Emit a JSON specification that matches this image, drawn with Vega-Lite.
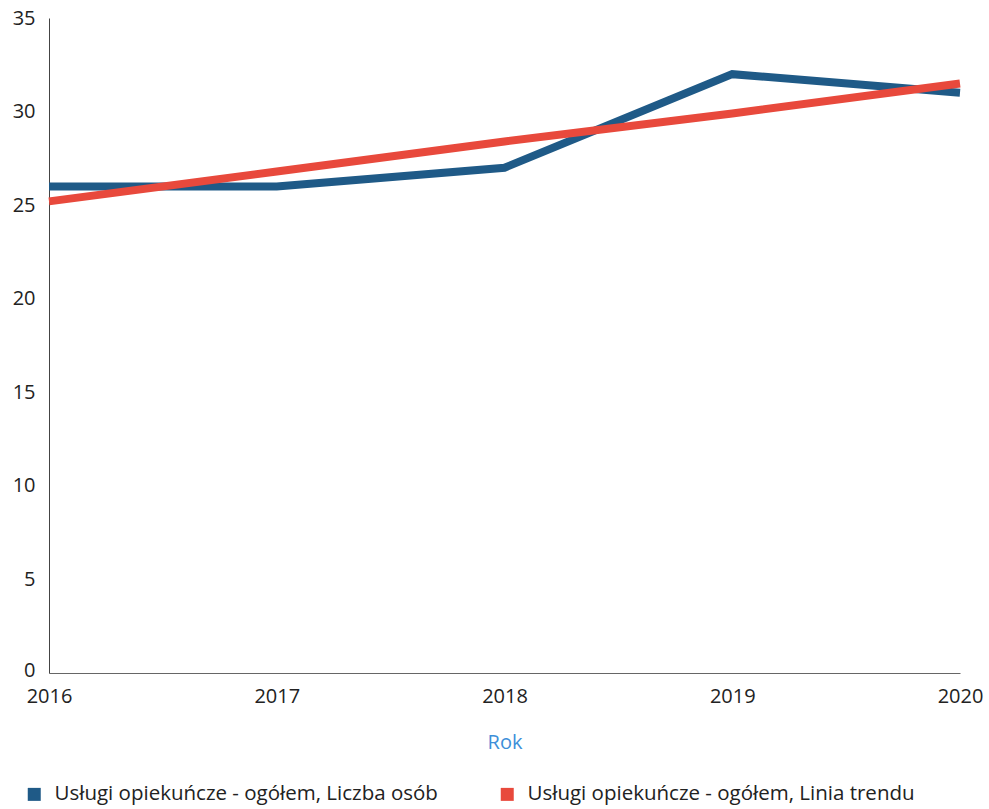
{
  "$schema": "https://vega.github.io/schema/vega-lite/v6.json",
  "width": 911,
  "height": 655,
  "autosize": {"type": "none"},
  "padding": {"left": 49, "top": 18, "right": 29, "bottom": 136},
  "background": "white",
  "config": {
    "view": {"stroke": null},
    "font": "Open Sans",
    "axis": {"grid": false, "ticks": false, "labelColor": "#222", "labelFont": "Open Sans"}
  },
  "data": {
    "values": [
      {"rok": 2016, "wartosc": 26, "seria": "Usługi opiekuńcze - ogółem, Liczba osób"},
      {"rok": 2017, "wartosc": 26, "seria": "Usługi opiekuńcze - ogółem, Liczba osób"},
      {"rok": 2018, "wartosc": 27, "seria": "Usługi opiekuńcze - ogółem, Liczba osób"},
      {"rok": 2019, "wartosc": 32, "seria": "Usługi opiekuńcze - ogółem, Liczba osób"},
      {"rok": 2020, "wartosc": 31, "seria": "Usługi opiekuńcze - ogółem, Liczba osób"},
      {"rok": 2016, "wartosc": 25.2, "seria": "Usługi opiekuńcze - ogółem, Linia trendu"},
      {"rok": 2017, "wartosc": 26.8, "seria": "Usługi opiekuńcze - ogółem, Linia trendu"},
      {"rok": 2018, "wartosc": 28.4, "seria": "Usługi opiekuńcze - ogółem, Linia trendu"},
      {"rok": 2019, "wartosc": 29.9, "seria": "Usługi opiekuńcze - ogółem, Linia trendu"},
      {"rok": 2020, "wartosc": 31.5, "seria": "Usługi opiekuńcze - ogółem, Linia trendu"}
    ]
  },
  "mark": {"type": "line", "strokeWidth": 8, "strokeCap": "butt", "strokeJoin": "miter"},
  "encoding": {
    "x": {
      "field": "rok", "type": "quantitative",
      "scale": {"domain": [2016, 2020], "nice": false, "zero": false},
      "axis": {
        "values": [2016, 2017, 2018, 2019, 2020], "format": "d",
        "title": "Rok", "titleColor": "#3d8fd9", "titleFontSize": 20, "titleFontWeight": "normal",
        "titlePadding": 26, "labelFontSize": 20, "labelPadding": 13,
        "domainColor": "#666", "domainWidth": 1, "labelFlush": false
      }
    },
    "y": {
      "field": "wartosc", "type": "quantitative",
      "scale": {"domain": [0, 35], "nice": false},
      "axis": {
        "values": [0, 5, 10, 15, 20, 25, 30, 35], "title": null,
        "labelFontSize": 20, "labelPadding": 14, "domainColor": "#444", "domainWidth": 1,
        "labelOffset": {"condition": {"test": "datum.value === 0", "value": -3}, "value": 0}
      }
    },
    "color": {
      "field": "seria", "type": "nominal",
      "scale": {
        "domain": ["Usługi opiekuńcze - ogółem, Liczba osób", "Usługi opiekuńcze - ogółem, Linia trendu"],
        "range": ["#1f5a87", "#e8493c"]
      },
      "legend": {
        "title": null, "orient": "none", "legendX": -25, "legendY": 766,
        "direction": "horizontal", "columns": 2, "columnPadding": 50,
        "symbolType": "square", "symbolSize": 25, "symbolStrokeWidth": 8,
        "labelFontSize": 20.5, "labelColor": "#222", "labelLimit": 500, "labelOffset": 10
      }
    },
    "order": {"field": "rok"}
  }
}
